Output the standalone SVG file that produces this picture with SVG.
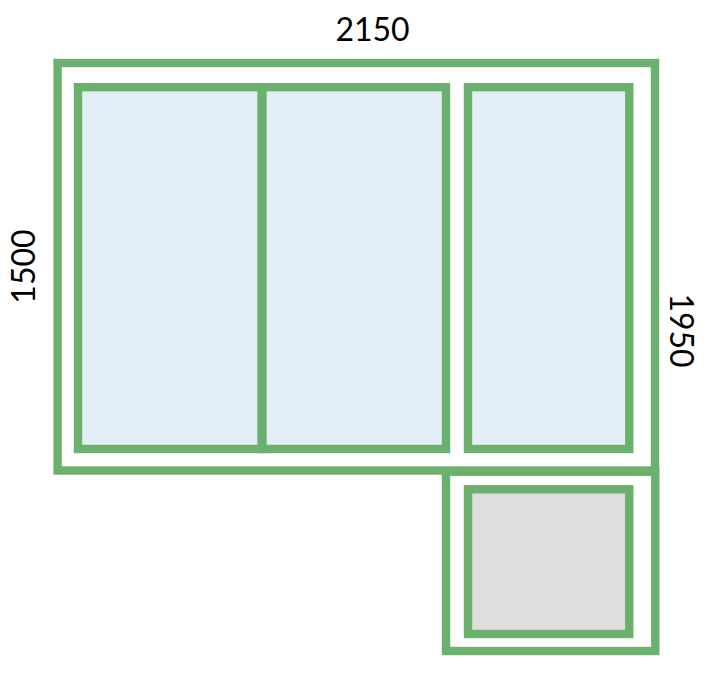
<svg xmlns="http://www.w3.org/2000/svg" width="710" height="678" viewBox="0 0 710 678">
<style>
.o{fill:none;stroke:#6cb06d;stroke-width:8.4}
.b{fill:#e4eef7;stroke:#6cb06d;stroke-width:8.4}
.g{fill:#dedede;stroke:#6cb06d;stroke-width:8.4}
text{font-family:"Lato",sans-serif;font-size:32px;fill:#000;text-anchor:middle}
</style>
<rect width="710" height="678" fill="#fff"/>
<g id="frame-top"><rect class="o" x="57.6" y="63" width="597.4" height="407.5"/></g>
<g id="frame-bottom"><rect class="o" x="446" y="471.7" width="209.3" height="179.3"/></g>
<g id="pane-1"><rect class="b" x="78" y="87.2" width="183.5" height="361.8"/></g>
<g id="pane-2"><rect class="b" x="262.5" y="87.2" width="183.5" height="361.8"/></g>
<g id="pane-3"><rect class="b" x="468" y="87.2" width="161.3" height="361.8"/></g>
<g id="pane-4"><rect class="g" x="468" y="489.3" width="161.3" height="144.7"/></g>
<g id="labels">
<text x="372.5" y="41">2150</text>
<text transform="translate(35 266.5) rotate(-90)">1500</text>
<text transform="translate(670 330.5) rotate(90)">1950</text>
</g>
</svg>
